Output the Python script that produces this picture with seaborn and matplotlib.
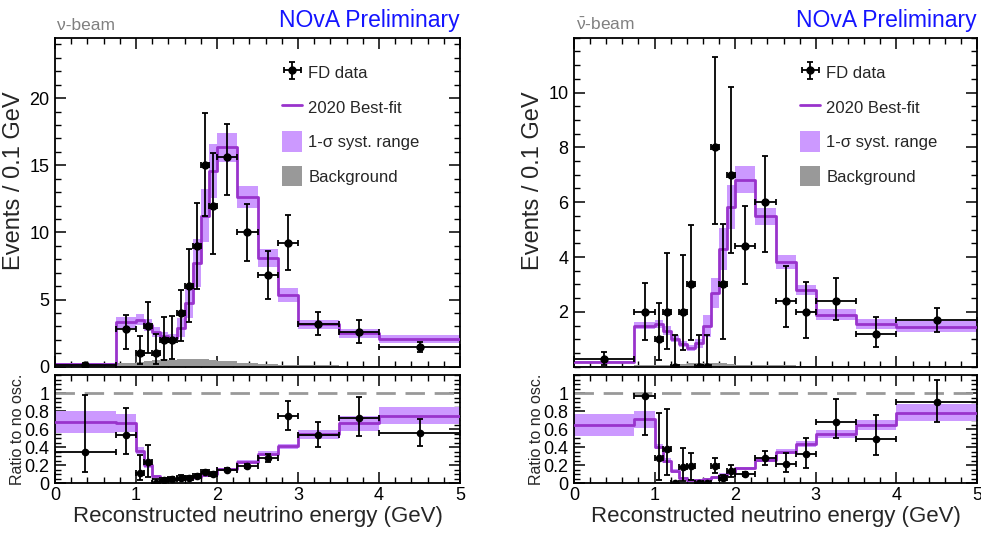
import numpy as np
import pandas as pd
import matplotlib
matplotlib.use("Agg")
import matplotlib.pyplot as plt
import seaborn as sns
from matplotlib.ticker import MultipleLocator, FixedLocator, FuncFormatter
from matplotlib.patches import Patch
from matplotlib.lines import Line2D

# ---------------- data ----------------
edges = [0, 0.75, 1.0, 1.1, 1.2, 1.3, 1.4, 1.5, 1.6, 1.7, 1.8, 1.9, 2.0,
         2.25, 2.5, 2.75, 3.0, 3.5, 4.0, 5.0]

# neutrino beam, events / 0.1 GeV
nu_model = [0.22, 3.3, 3.5, 3.1, 2.6, 2.3, 2.15, 2.9, 4.75, 7.7, 11.25, 14.6,
            16.35, 12.65, 8.1, 5.35, 3.15, 2.5, 2.05]
nu_band = [0.06, 0.43, 0.43, 0.44, 0.37, 0.27, 0.25, 0.7, 1.1, 1.8, 2.0, 2.0,
           1.08, 0.8, 0.66, 0.5, 0.36, 0.34, 0.28]
nu_bkg = [0.05, 0.3, 0.35, 0.4, 0.5, 0.6, 0.5, 0.55, 0.6, 0.6, 0.55, 0.5,
          0.4, 0.3, 0.2, 0.15, 0.1, 0.08, 0.05]
nu_data = [0.13, 2.8, 1.0, 3.0, 1.0, 2.0, 2.0, 4.0, 6.0, 9.0, 15.0, 12.0,
           15.6, 10.0, 6.8, 9.2, 3.2, 2.6, 1.5]
nu_data_lo = [0.03, 1.35, 0.23, 1.0, 0.23, 0.5, 0.55, 1.9, 3.3, 5.8, 11.2, 8.4,
              12.8, 7.9, 5.05, 7.2, 2.36, 1.75, 1.07]
nu_data_hi = [0.31, 3.86, 2.3, 4.85, 2.4, 3.7, 3.8, 5.7, 8.8, 12.2, 18.9, 15.9,
              18.1, 12.1, 8.6, 11.3, 4.1, 3.48, 1.87]
# neutrino beam, ratio to no oscillation
nu_rmodel = [0.68, 0.67, 0.36, 0.2, 0.08, 0.044, 0.044, 0.05, 0.063, 0.074,
             0.09, 0.1, 0.155, 0.236, 0.33, 0.41, 0.545, 0.665, 0.75]
nu_rband = [0.12, 0.1, 0.04, 0.03, 0.015, 0.01, 0.01, 0.015, 0.015, 0.02,
            0.02, 0.02, 0.015, 0.02, 0.025, 0.03, 0.05, 0.08, 0.095]
nu_rdata = [0.35, 0.535, 0.11, 0.236, 0.0, 0.037, 0.048, 0.063, 0.063, 0.081,
            0.13, 0.10, 0.148, 0.188, 0.277, 0.745, 0.535, 0.72, 0.555]
nu_rdata_lo = [0.13, 0.33, 0.04, 0.07, 0.0, 0.015, 0.025, 0.04, 0.045, 0.065,
               0.11, 0.08, 0.135, 0.165, 0.24, 0.59, 0.405, 0.52, 0.41]
nu_rdata_hi = [0.98, 0.83, 0.31, 0.42, 0.05, 0.06, 0.07, 0.09, 0.085, 0.1,
               0.15, 0.125, 0.165, 0.215, 0.32, 0.915, 0.68, 0.96, 0.71]

# antineutrino beam, events / 0.1 GeV
nb_model = [0.16, 1.5, 1.56, 1.32, 1.02, 0.83, 0.68, 0.86, 1.5, 2.69, 4.29,
            5.81, 6.82, 5.48, 3.81, 2.8, 1.9, 1.56, 1.46]
nb_band = [0.04, 0.12, 0.15, 0.15, 0.12, 0.1, 0.1, 0.16, 0.4, 0.55, 0.76, 0.8,
           0.5, 0.3, 0.26, 0.18, 0.2, 0.19, 0.2]
nb_bkg = [0.02, 0.05, 0.06, 0.08, 0.1, 0.1, 0.12, 0.13, 0.14, 0.14, 0.12, 0.1,
          0.08, 0.06, 0.05, 0.04, 0.03, 0.02, 0.02]
nb_data = [0.27, 2.0, 1.0, 2.0, 0.0, 2.0, 3.0, 0.0, 0.0, 8.0, 3.0, 7.0,
           4.4, 6.0, 2.4, 2.0, 2.4, 1.2, 1.7]
nb_data_lo = [0.08, 0.98, 0.23, 0.63, 0.0, 0.6, 0.98, 0.0, 0.0, 5.2, 1.0, 4.15,
              3.02, 4.2, 1.46, 1.04, 1.72, 0.71, 1.26]
nb_data_hi = [0.53, 3.04, 2.31, 4.13, 1.14, 4.06, 5.18, 1.14, 1.14, 11.28, 5.2,
              10.2, 5.85, 7.7, 3.69, 3.08, 3.22, 1.8, 2.14]
# antineutrino beam, ratio to no oscillation
nb_rmodel = [0.646, 0.71, 0.405, 0.25, 0.137, 0.055, 0.037, 0.037, 0.048,
             0.066, 0.092, 0.13, 0.166, 0.258, 0.35, 0.435, 0.546, 0.646, 0.78]
nb_rband = [0.125, 0.095, 0.03, 0.03, 0.02, 0.01, 0.01, 0.01, 0.015, 0.02,
            0.02, 0.02, 0.015, 0.02, 0.025, 0.03, 0.045, 0.06, 0.095]
nb_rdata = [np.nan, 0.967, 0.277, 0.38, 0.0, 0.185, 0.19, 0.0, 0.0, 0.19,
            0.063, 0.14, 0.103, 0.277, 0.214, 0.32, 0.683, 0.487, 0.897]
nb_rdata_lo = [np.nan, 0.53, 0.04, 0.09, 0.0, 0.02, 0.04, 0.0, 0.0, 0.11,
               0.04, 0.075, 0.08, 0.2, 0.13, 0.165, 0.5, 0.31, 0.675]
nb_rdata_hi = [np.nan, 1.22, 0.775, 0.82, 0.0, 0.39, 0.34, 0.0, 0.0, 0.28,
               0.09, 0.2, 0.13, 0.36, 0.34, 0.5, 0.93, 0.76, 1.15]

beam_labels = ["\u03bd-beam", r"$\bar{\nu}$-beam"]
legend_labels = ["FD data", "2020 Best-fit", "1-\u03c3 syst. range", "Background"]
xlabel = "Reconstructed neutrino energy (GeV)"
ylabel_top = "Events / 0.1 GeV"
ylabel_ratio = "Ratio to no osc."
tag = "NOvA Preliminary"

# ---------------- style ----------------
sns.set_theme(style="ticks")
plt.rcParams["font.family"] = ["Liberation Sans", "DejaVu Sans"]
plt.rcParams["mathtext.fontset"] = "custom"
plt.rcParams["mathtext.rm"] = "Liberation Sans"
plt.rcParams["mathtext.it"] = "Liberation Sans"
plt.rcParams["mathtext.bf"] = "Liberation Sans:bold"
plt.rcParams["mathtext.default"] = "regular"

PURPLE = "#9933cc"
BAND = "#cc99ff"
GRAY = "#999999"

fig = plt.figure(figsize=(9.81, 5.33), dpi=100)

E = np.array(edges, float)
ctr = (E[:-1] + E[1:]) / 2
hw = np.diff(E) / 2


def ext(v):
    v = np.asarray(v, float)
    return np.append(v, v[-1])


def hist_step(ax, vals, fill, color, lw, z):
    df = pd.DataFrame({"E": ctr, "w": np.asarray(vals, float)})
    sns.histplot(data=df, x="E", weights="w", bins=list(edges),
                 element="step", fill=fill, color=color, alpha=1,
                 linewidth=lw, ax=ax, zorder=z)


def style_axes(ax):
    for s in ax.spines.values():
        s.set_color("black")
        s.set_linewidth(1.3)
    ax.tick_params(which="both", direction="in", top=True, right=True,
                   bottom=True, left=True, colors="black", labelsize=13)
    ax.tick_params(which="major", length=8, width=1.1, pad=4)
    ax.tick_params(which="minor", length=4.5, width=1.0)
    ax.xaxis.set_major_locator(MultipleLocator(1))
    ax.xaxis.set_minor_locator(MultipleLocator(0.2))
    ax.set_xlim(0, 5)


def draw_pair(left_px, width_px, model, band, bkg, d, dlo, dhi,
              rmodel, rband, rd, rlo, rhi, ytop, ymajor, yminor, beam):
    W, H = 981.0, 533.0
    axt = fig.add_axes([left_px / W, 1 - 366.7 / H, width_px / W, 329.0 / H])
    axr = fig.add_axes([left_px / W, 1 - 483.3 / H, width_px / W, 108.3 / H])
    lab_x = -30.0 / width_px

    model = np.asarray(model, float)
    band = np.asarray(band, float)
    d = np.asarray(d, float)

    # top panel
    axt.fill_between(E, ext(model - band), ext(model + band), step="post",
                     color=BAND, lw=0, zorder=1)
    hist_step(axt, bkg, True, GRAY, 0, 2)
    hist_step(axt, model, False, PURPLE, 2, 3)
    eb = axt.errorbar(ctr, d, yerr=[d - np.asarray(dlo), np.asarray(dhi) - d],
                      xerr=hw, fmt="o", color="black", ms=5, capsize=2.5,
                      elinewidth=1.3, capthick=1.3, zorder=5)
    axt.set_ylim(0, ytop)
    style_axes(axt)
    axt.yaxis.set_major_locator(ymajor)
    axt.yaxis.set_minor_locator(MultipleLocator(yminor))
    axt.tick_params(labelbottom=False)
    axt.set_xlabel("")
    axt.set_ylabel(ylabel_top, fontsize=17)
    axt.yaxis.set_label_coords(lab_x, 0.566)

    handles = [eb, Line2D([0], [0], color=PURPLE, lw=2),
               Patch(facecolor=BAND, edgecolor="none"),
               Patch(facecolor=GRAY, edgecolor="none")]
    axt.legend(handles, legend_labels, loc="upper left",
               bbox_to_anchor=(0.545, 0.945), frameon=False, fontsize=12,
               handlelength=1.2, handleheight=1.5, handletextpad=0.35,
               labelspacing=0.85, borderaxespad=0)

    axt.text(0.005, 1.023, beam, transform=axt.transAxes, color="#808080",
             fontsize=12.5, ha="left", va="baseline")
    axt.text(1.0, 1.034, tag, transform=axt.transAxes, color="#1414ff",
             fontsize=16.5, ha="right", va="baseline")

    # ratio panel
    rmodel = np.asarray(rmodel, float)
    rband = np.asarray(rband, float)
    rd = np.asarray(rd, float)
    axr.fill_between(E, ext(rmodel - rband), ext(rmodel + rband), step="post",
                     color=BAND, lw=0, zorder=1)
    hist_step(axr, rmodel, False, PURPLE, 2, 3)
    axr.axhline(1.0, color=GRAY, lw=2, ls=(0, (7, 3.5)), zorder=2)
    axr.errorbar(ctr, rd, yerr=[rd - np.asarray(rlo), np.asarray(rhi) - rd],
                 xerr=hw, fmt="o", color="black", ms=4.5, capsize=2.5,
                 elinewidth=1.3, capthick=1.3, zorder=5)
    axr.set_ylim(0, 1.2)
    style_axes(axr)
    axr.yaxis.set_major_locator(FixedLocator([0, 0.2, 0.4, 0.6, 0.8, 1.0]))
    axr.yaxis.set_minor_locator(MultipleLocator(0.05))
    axr.yaxis.set_major_formatter(FuncFormatter(lambda v, p: f"{v:g}"))
    axr.tick_params(axis="x", pad=3)
    axr.set_ylabel(ylabel_ratio, fontsize=11.5)
    axr.yaxis.set_label_coords(lab_x, 0.5)
    axr.set_xlabel(xlabel, fontsize=16, labelpad=1)
    return axt, axr


draw_pair(55, 405, nu_model, nu_band, nu_bkg, nu_data, nu_data_lo, nu_data_hi,
          nu_rmodel, nu_rband, nu_rdata, nu_rdata_lo, nu_rdata_hi,
          24.5, MultipleLocator(5), 1, beam_labels[0])
draw_pair(574, 403, nb_model, nb_band, nb_bkg, nb_data, nb_data_lo, nb_data_hi,
          nb_rmodel, nb_rband, nb_rdata, nb_rdata_lo, nb_rdata_hi,
          12.0, FixedLocator([2, 4, 6, 8, 10]), 0.5, beam_labels[1])

fig.savefig("out.png", dpi=100)
